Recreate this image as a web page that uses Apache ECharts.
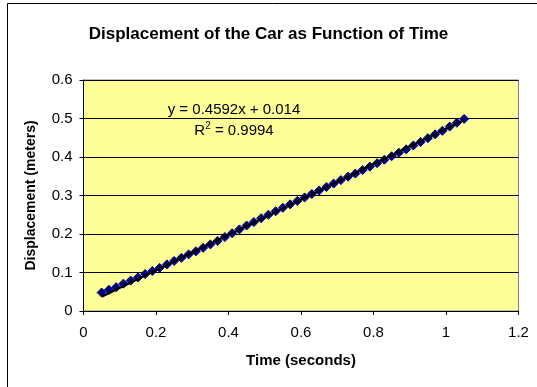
<!DOCTYPE html>
<html>
<head>
<meta charset="utf-8">
<script src="https://cdn.jsdelivr.net/npm/echarts@6/dist/echarts.min.js"></script>
<style>
  html, body { margin: 0; padding: 0; background: #fff; }
  #chart { width: 537px; height: 387px; }
</style>
</head>
<body>
<div id="chart"></div>
<script>
const timeSec = [
  0.05, 0.07, 0.09, 0.11, 0.13, 0.15, 0.17, 0.19, 0.21, 0.23,
  0.25, 0.27, 0.29, 0.31, 0.33, 0.35, 0.37, 0.39, 0.41, 0.43,
  0.45, 0.47, 0.49, 0.51, 0.53, 0.55, 0.57, 0.59, 0.61, 0.63,
  0.65, 0.67, 0.69, 0.71, 0.73, 0.75, 0.77, 0.79, 0.81, 0.83,
  0.85, 0.87, 0.89, 0.91, 0.93, 0.95, 0.97, 0.99, 1.01, 1.03, 1.05
]
const displacement = [
  0.048, 0.055, 0.062, 0.071, 0.079, 0.087, 0.096, 0.104, 0.112, 0.121,
  0.130, 0.138, 0.147, 0.155, 0.164, 0.173, 0.182, 0.192, 0.202, 0.212,
  0.222, 0.231, 0.241, 0.250, 0.259, 0.268, 0.277, 0.286, 0.295, 0.304,
  0.313, 0.322, 0.331, 0.340, 0.349, 0.357, 0.366, 0.375, 0.384, 0.393,
  0.402, 0.411, 0.420, 0.430, 0.439, 0.449, 0.459, 0.468, 0.479, 0.489, 0.499
]
// 趋势线参数（图中公式）
const slope = 0.4592
const intercept = 0.014
const rSquared = '0.9994'

const xTicks = { min: 0, max: 1.2, interval: 0.2 }
const yTicks = { min: 0, max: 0.6, interval: 0.1 }

const points = timeSec.map((t, i) => [t, displacement[i]])
const xFirst = timeSec[0]
const xLast = timeSec[timeSec.length - 1]
const trend = [xFirst, xLast].map((x) => [x, slope * x + intercept])

const font = 'Arial, "Liberation Sans", sans-serif'

const chart = echarts.init(document.getElementById('chart'), null, { renderer: 'canvas' })

chart.setOption({
  animation: false,
  backgroundColor: '#ffffff',
  textStyle: { fontFamily: font },
  title: {
    text: 'Displacement of the Car as Function of Time',
    left: 'center',
    top: 21,
    textStyle: { fontFamily: font, fontSize: 17, fontWeight: 'bold', color: '#000' },
  },
  grid: {
    left: 83.5,
    right: 18.5,
    top: 80,
    bottom: 76,
    show: true,
    backgroundColor: '#FFFF99',
    borderColor: '#808080',
    borderWidth: 1,
  },
  xAxis: {
    type: 'value',
    min: xTicks.min,
    max: xTicks.max,
    interval: xTicks.interval,
    name: 'Time (seconds)',
    nameLocation: 'middle',
    nameGap: 42,
    nameTextStyle: { fontFamily: font, fontSize: 15, fontWeight: 'bold', color: '#000' },
    axisLine: { show: true, onZero: false, lineStyle: { color: '#000', width: 1 } },
    axisTick: { show: true, inside: false, length: 4, lineStyle: { color: '#000' } },
    axisLabel: {
      margin: 14,
      fontFamily: font,
      fontSize: 15,
      color: '#000',
      formatter: (v) => String(Math.round(v * 10) / 10),
    },
    splitLine: { show: false },
  },
  yAxis: {
    type: 'value',
    min: yTicks.min,
    max: yTicks.max,
    interval: yTicks.interval,
    name: 'Displacement (meters)',
    nameLocation: 'middle',
    nameGap: 45,
    nameTextStyle: { fontFamily: font, fontSize: 14, fontWeight: 'bold', color: '#000' },
    axisLine: { show: true, onZero: false, lineStyle: { color: '#000', width: 1 } },
    axisTick: { show: true, inside: false, length: 4, lineStyle: { color: '#000' } },
    axisLabel: {
      margin: 11,
      fontFamily: font,
      fontSize: 15,
      color: '#000',
      formatter: (v) => String(Math.round(v * 10) / 10),
    },
    splitLine: { show: true, lineStyle: { color: '#000', width: 1 } },
  },
  series: [
    {
      name: 'Displacement',
      type: 'scatter',
      data: points,
      symbol: 'diamond',
      symbolSize: 9,
      itemStyle: { color: '#000080', opacity: 1, borderColor: '#000080', borderWidth: 1 },
      z: 2,
    },
    {
      name: 'Linear',
      type: 'line',
      data: trend,
      symbol: 'none',
      lineStyle: { color: '#000', width: 2 },
      z: 3,
    },
  ],
  graphic: [
    {
      type: 'rect',
      shape: { x: 7.5, y: 3.5, width: 600, height: 500 },
      style: { fill: 'none', stroke: '#000', lineWidth: 1 },
      silent: true,
      z: 100,
    },
    {
      type: 'text',
      x: 234,
      y: 110,
      style: {
        text: 'y = ' + slope + 'x + ' + intercept,
        font: '15px ' + font,
        fill: '#000',
        align: 'center',
        verticalAlign: 'middle',
      },
      z: 100,
    },
    {
      type: 'text',
      x: 234,
      y: 131,
      style: {
        text: '{n|R}{s|2}{n| = ' + rSquared + '}',
        align: 'center',
        verticalAlign: 'middle',
        rich: {
          n: { fontFamily: font, fontSize: 15, color: '#000' },
          s: { fontFamily: font, fontSize: 10, color: '#000', verticalAlign: 'top', padding: [0, 0, 9, 0] },
        },
      },
      z: 100,
    },
  ],
})
</script>
</body>
</html>
